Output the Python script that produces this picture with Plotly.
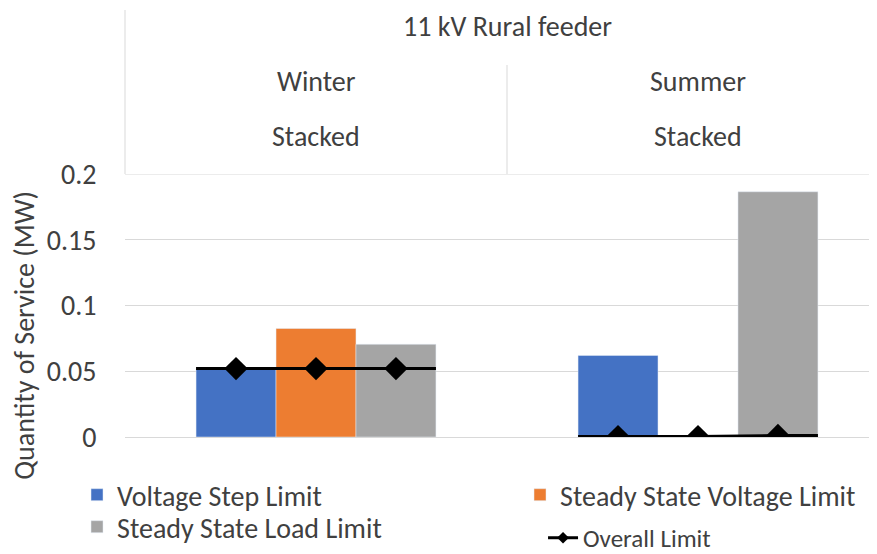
import plotly.graph_objects as go

# header (category axis drawn above the plot, Excel style)
feeder_label = "11 kV Rural feeder"
seasons = ["Winter", "Summer"]
chart_types = ["Stacked", "Stacked"]

# series values (MW), one per season
voltage_step = [0.052, 0.062]
ss_voltage = [0.0825, None]
ss_load = [0.0705, 0.1865]

# overall limit, one point per bar slot in each season
overall_limit = [
    [0.052, 0.052, 0.052],
    [0.0003, 0.0003, 0.0012],
]

y_ticks = [0, 0.05, 0.1, 0.15, 0.2]
y_tick_labels = ["0", "0.05", "0.1", "0.15", "0.2"]

colors = {
    "step": "#4472C4",
    "voltage": "#ED7D31",
    "load": "#A5A5A5",
    "limit": "#000000",
}

FONT = "Calibri, Carlito, Lato, sans-serif"
TEXT = "#404040"
GRID = "#D9D9D9"

bargap = 0.372
group_w = 1 - bargap
bar_w = group_w / 3

x_cat = list(range(len(seasons)))

fig = go.Figure()

fig.add_trace(go.Bar(x=x_cat, y=voltage_step, name="Voltage Step Limit",
                     marker_color=colors["step"], legend="legend"))
fig.add_trace(go.Bar(x=x_cat, y=ss_voltage, name="Steady State Voltage Limit",
                     marker_color=colors["voltage"], legend="legend2"))
fig.add_trace(go.Bar(x=x_cat, y=ss_load, name="Steady State Load Limit",
                     marker_color=colors["load"], legend="legend3"))

# overall limit: a flat run across each season group, markers on bar centres
lx, ly, lsize = [], [], []
for i, vals in enumerate(overall_limit):
    xs = [i - group_w / 2] + [i + (k - 1) * bar_w for k in range(3)] + [i + group_w / 2]
    ys = [vals[0]] + vals + [vals[-1]]
    lx += xs + [None]
    ly += ys + [None]
    lsize += [0, 18, 18, 18, 0, 0]

fig.add_trace(go.Scatter(
    x=lx, y=ly, mode="lines+markers", name="Overall Limit",
    line=dict(color=colors["limit"], width=3),
    marker=dict(symbol="diamond", size=lsize, color=colors["limit"],
                opacity=1, line=dict(width=0)),
    legend="legend4",
))

# header texts
annotations = [dict(x=0.5, y=1.559, xref="x", yref="paper", text=feeder_label,
                    showarrow=False, yanchor="middle")]
for i in x_cat:
    annotations.append(dict(x=i, y=1.35, xref="x", yref="paper", text=seasons[i],
                            showarrow=False, yanchor="middle"))
    annotations.append(dict(x=i, y=1.1407, xref="x", yref="paper", text=chart_types[i],
                            showarrow=False, yanchor="middle"))
annotations.append(dict(x=0.0, y=0.385, xref="paper", yref="paper", xshift=-100,
                        xanchor="center", yanchor="middle",
                        text="Quantity of Service (MW)", textangle=-90,
                        showarrow=False))

shapes = [
    dict(type="line", xref="paper", yref="paper", x0=0, x1=0, y0=1, y1=1.6236,
         line=dict(color=GRID, width=1)),
    dict(type="line", xref="x", yref="paper", x0=0.5, x1=0.5, y0=1, y1=1.4144,
         line=dict(color=GRID, width=1)),
    dict(type="line", xref="paper", yref="y", x0=0, x1=1, y0=0.2, y1=0.2,
         line=dict(color=GRID, width=1), layer="below"),
]


def legend_at(x, y, size=28):
    return dict(orientation="v", bgcolor="rgba(0,0,0,0)", x=x, y=y,
                xanchor="left", yanchor="middle",
                font=dict(size=size, color=TEXT), itemclick=False)


# page body adds an 8px margin, so the figure is 8px smaller than the window
fig.update_layout(
    width=869,
    height=546,
    margin=dict(l=117, r=0, t=166, b=117, autoexpand=False),
    paper_bgcolor="white",
    plot_bgcolor="white",
    font=dict(family=FONT, color=TEXT, size=28),
    barmode="group",
    bargap=bargap,
    bargroupgap=0,
    xaxis=dict(range=[-0.5, 1.4686], showticklabels=False, showgrid=False,
               zeroline=False, showline=False),
    yaxis=dict(range=[0, 0.2], tickvals=y_ticks, ticktext=y_tick_labels,
               showgrid=True, gridcolor=GRID, gridwidth=1,
               zeroline=True, zerolinecolor=GRID, zerolinewidth=1,
               ticks="outside", ticklen=22, tickcolor="rgba(0,0,0,0)",
               tickfont=dict(size=28), showline=False),
    legend=legend_at(-0.0638, -0.2205),
    legend2=legend_at(0.5253, -0.2205),
    legend3=legend_at(-0.0638, -0.3422),
    legend4=legend_at(0.5559, -0.384, size=25),
    annotations=annotations,
    shapes=shapes,
    showlegend=True,
)

fig.write_html("out.html")
